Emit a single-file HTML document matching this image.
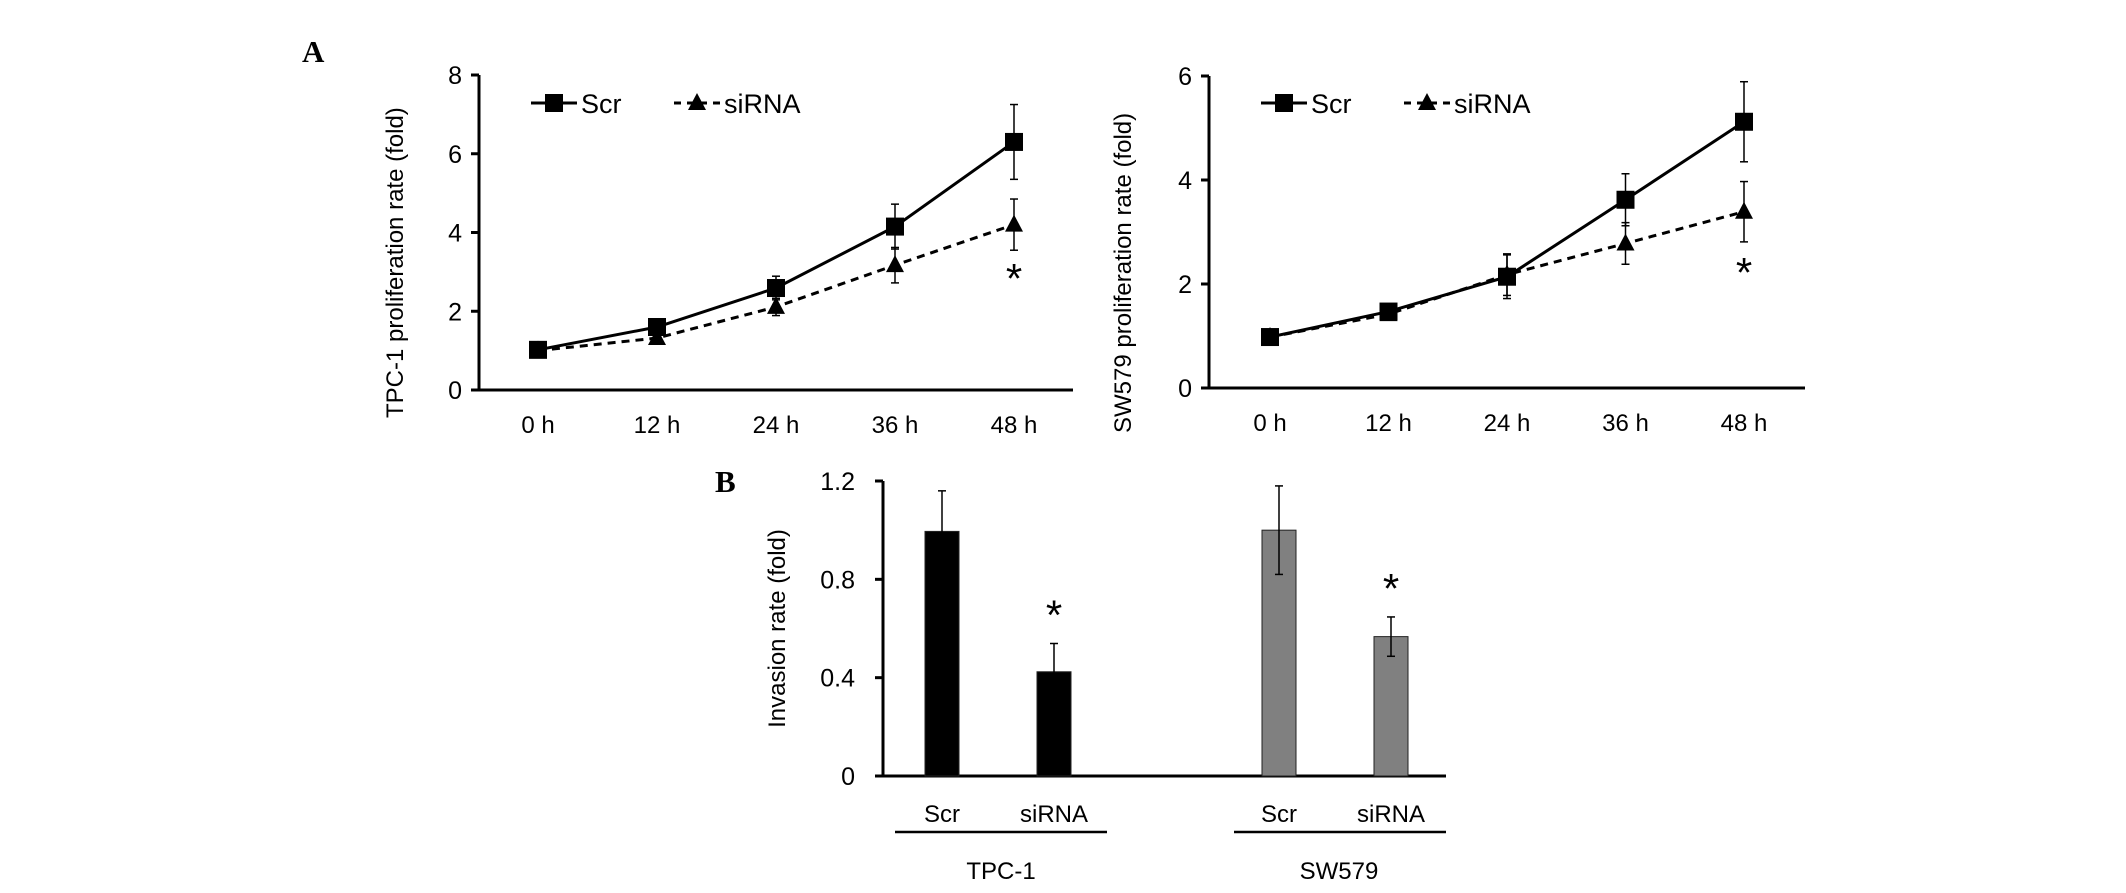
<!DOCTYPE html>
<html><head><meta charset="utf-8"><style>
html,body{margin:0;padding:0;background:#fff;overflow:hidden;}
svg{display:block;font-family:"Liberation Sans",Arial,sans-serif;}
</style></head><body>
<svg id="fig" width="2126" height="893" viewBox="0 0 2126 893">
<text x="302" y="62" font-family="Liberation Serif,serif" font-weight="bold" font-size="31">A</text>
<text x="715" y="492" font-family="Liberation Serif,serif" font-weight="bold" font-size="31">B</text>
<g id="left"></g>
<g id="right"></g>
<g id="bars"></g>
</svg>
<script>
const timeLabels = ["0 h","12 h","24 h","36 h","48 h"];
const tpcScr = [1.02,1.6,2.59,4.15,6.3];
const tpcScrErr = [0.08,0.12,0.3,0.57,0.95];
const tpcSi = [1.0,1.32,2.11,3.17,4.2];
const tpcSiErr = [0.05,0.1,0.22,0.45,0.65];
const tpcTicks = [0,2,4,6,8];
const swScr = [0.98,1.47,2.14,3.62,5.12];
const swScrErr = [0.08,0.1,0.42,0.5,0.77];
const swSi = [0.98,1.42,2.18,2.78,3.39];
const swSiErr = [0.05,0.1,0.4,0.4,0.58];
const swTicks = [0,2,4,6];
const invCats = ["Scr","siRNA","Scr","siRNA"];
const invVals = [0.995,0.424,1.0,0.567];
const invErr = [0.165,0.115,0.18,0.08];
const invTicks = [0,0.4,0.8,1.2];
const NS="http://www.w3.org/2000/svg";
function mk(p,tag,at,txt){const e=document.createElementNS(NS,tag);for(const k in at)e.setAttribute(k,at[k]);if(txt!==undefined)e.textContent=txt;p.appendChild(e);return e;}

function lineChart(g,o){
  const y=v=>o.y0-(v/o.max)*(o.y0-o.ytop);
  const x=i=>o.x0+i*o.dx;
  let e=mk(g,'line',{x1:o.ax,y1:o.ytop,x2:o.ax,y2:o.y0,stroke:'#000','stroke-width':3});
  
  e=mk(g,'line',{x1:o.ax-8,y1:o.y0,x2:o.axEnd,y2:o.y0,stroke:'#000','stroke-width':3});
  
  o.ticks.forEach(t=>{
    mk(g,'line',{x1:o.ax-8,y1:y(t),x2:o.ax,y2:y(t),stroke:'#000','stroke-width':3});
    e=mk(g,'text',{x:o.ax-17,y:y(t)+9,'text-anchor':'end','font-size':25},String(t));
    
  });
  timeLabels.forEach((l,i)=>{
    e=mk(g,'text',{x:x(i),y:o.y0+43,'text-anchor':'middle','font-size':24},l);
    
  });
  e=mk(g,'text',{transform:`translate(${o.ylx},${o.ylb}) rotate(-90)`,'text-anchor':'start','font-size':24},o.ylabel);
  
  [[o.scr,o.scrE,'','sq'],[o.si,o.siE,'8,6','tri']].forEach(([d,er,dash,m])=>{
    const pts=d.map((v,i)=>x(i)+','+y(v)).join(' ');
    e=mk(g,'polyline',{points:pts,fill:'none',stroke:'#000','stroke-width':3,'stroke-dasharray':dash});
    
    d.forEach((v,i)=>{
      const cx=x(i),cy=y(v),t=y(v+er[i]),b=y(v-er[i]);
      mk(g,'line',{x1:cx,y1:t,x2:cx,y2:b,stroke:'#000','stroke-width':1.5});
      mk(g,'line',{x1:cx-4,y1:t,x2:cx+4,y2:t,stroke:'#000','stroke-width':1.5});
      mk(g,'line',{x1:cx-4,y1:b,x2:cx+4,y2:b,stroke:'#000','stroke-width':1.5});
      if(m==='sq'){e=mk(g,'rect',{x:cx-9,y:cy-9,width:18,height:18,fill:'#000'});}
      else {e=mk(g,'polygon',{points:`${cx},${cy-10} ${cx-9},${cy+7} ${cx+9},${cy+7}`,fill:'#000'});}
      
    });
  });
  e=mk(g,'text',{x:x(4),y:o.star+20,'text-anchor':'middle','font-size':42},'*');
  
  const L=o.leg,ly=o.ly;
  mk(g,'line',{x1:L,y1:ly,x2:L+46,y2:ly,stroke:'#000','stroke-width':3});
  mk(g,'rect',{x:L+14,y:ly-9,width:18,height:18,fill:'#000'});
  e=mk(g,'text',{x:L+50,y:ly+10,'font-size':27},'Scr');
  mk(g,'line',{x1:L+143,y1:ly,x2:L+189,y2:ly,stroke:'#000','stroke-width':3,'stroke-dasharray':'7,6'});
  mk(g,'polygon',{points:`${L+166},${ly-10} ${L+157},${ly+7} ${L+175},${ly+7}`,fill:'#000'});
  e=mk(g,'text',{x:L+193,y:ly+10,'font-size':27},'siRNA');
}
lineChart(document.getElementById('left'),{ax:479,axEnd:1073,y0:390,ytop:75,max:8,x0:538,dx:119,ticks:tpcTicks,scr:tpcScr,scrE:tpcScrErr,si:tpcSi,siE:tpcSiErr,ylabel:'TPC-1 proliferation rate (fold)',ylx:403,ylb:418,star:273,leg:531,ly:103});
lineChart(document.getElementById('right'),{ax:1209,axEnd:1805,y0:388,ytop:76,max:6,x0:1270,dx:118.5,ticks:swTicks,scr:swScr,scrE:swScrErr,si:swSi,siE:swSiErr,ylabel:'SW579 proliferation rate (fold)',ylx:1131,ylb:433,star:267,leg:1261,ly:103});

(function(){
  const g=document.getElementById('bars');
  const y0=776,ytop=481,max=1.2,ax=883;
  const y=v=>y0-(v/max)*(y0-ytop);
  const xs=[942,1054,1279,1391];
  let e=mk(g,'line',{x1:ax,y1:ytop,x2:ax,y2:y0,stroke:'#000','stroke-width':3});
  
  e=mk(g,'line',{x1:ax-8,y1:y0,x2:1446,y2:y0,stroke:'#000','stroke-width':3});
  
  invTicks.forEach(t=>{
    mk(g,'line',{x1:ax-8,y1:y(t),x2:ax,y2:y(t),stroke:'#000','stroke-width':3});
    e=mk(g,'text',{x:ax-28,y:y(t)+9,'text-anchor':'end','font-size':25},t===0?'0':t.toFixed(1));
    
  });
  e=mk(g,'text',{transform:`translate(785,${(y0+ytop)/2}) rotate(-90)`,'text-anchor':'middle','font-size':24},'Invasion rate (fold)');
  
  invVals.forEach((v,i)=>{
    const cx=xs[i];
    e=mk(g,'rect',{x:cx-17,y:y(v),width:34,height:y0-y(v),fill:i<2?'#000':'#808080',stroke:'#222','stroke-width':1});
    
    const t=y(v+invErr[i]),b=y(v-invErr[i]);
    mk(g,'line',{x1:cx,y1:t,x2:cx,y2:b,stroke:'#000','stroke-width':1.5});
    mk(g,'line',{x1:cx-4,y1:t,x2:cx+4,y2:t,stroke:'#000','stroke-width':1.5});
    mk(g,'line',{x1:cx-4,y1:b,x2:cx+4,y2:b,stroke:'#000','stroke-width':1.5});
    e=mk(g,'text',{x:cx,y:822,'text-anchor':'middle','font-size':24},invCats[i]);
    
    if(i%2===1){e=mk(g,'text',{x:cx,y:t-14,'text-anchor':'middle','font-size':42},'*');}
  });
  mk(g,'line',{x1:895,y1:832,x2:1107,y2:832,stroke:'#000','stroke-width':2.5});
  mk(g,'line',{x1:1234,y1:832,x2:1446,y2:832,stroke:'#000','stroke-width':2.5});
  e=mk(g,'text',{x:1001,y:879,'text-anchor':'middle','font-size':24},'TPC-1');
  e=mk(g,'text',{x:1339,y:879,'text-anchor':'middle','font-size':24},'SW579');
})();
</script>
</body></html>
